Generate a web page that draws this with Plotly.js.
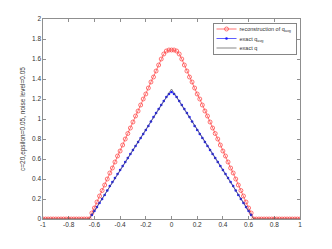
<!DOCTYPE html>
<html><head><meta charset="utf-8">
<script src="https://cdn.plot.ly/plotly-3.0.1.min.js"></script>
<style>html,body{margin:0;padding:0;background:#fff}#c{width:332px;height:249px}</style>
</head><body><div id="c"></div>
<script>
var xRecon = [-1,-0.98,-0.96,-0.94,-0.92,-0.9,-0.88,-0.86,-0.84,-0.82,-0.8,-0.78,-0.76,-0.74,-0.72,-0.7,-0.68,-0.66,-0.64,-0.62,-0.6,-0.58,-0.56,-0.54,-0.52,-0.5,-0.48,-0.46,-0.44,-0.42,-0.4,-0.38,-0.36,-0.34,-0.32,-0.3,-0.28,-0.26,-0.24,-0.22,-0.2,-0.18,-0.16,-0.14,-0.12,-0.1,-0.08,-0.06,-0.04,-0.02,0,0.02,0.04,0.06,0.08,0.1,0.12,0.14,0.16,0.18,0.2,0.22,0.24,0.26,0.28,0.3,0.32,0.34,0.36,0.38,0.4,0.42,0.44,0.46,0.48,0.5,0.52,0.54,0.56,0.58,0.6,0.62,0.64,0.66,0.68,0.7,0.72,0.74,0.76,0.78,0.8,0.82,0.84,0.86,0.88,0.9,0.92,0.94,0.96,0.98,1];
var yRecon = [0,0,0,0,0,0,0,0,0,0,0,0,0,0,0,0,0,0,0,0.06,0.11,0.17,0.23,0.285,0.34,0.40,0.46,0.51,0.57,0.63,0.68,0.74,0.80,0.855,0.91,0.97,1.03,1.08,1.14,1.20,1.25,1.31,1.37,1.42,1.48,1.54,1.60,1.65,1.68,1.69,1.69,1.69,1.68,1.65,1.60,1.54,1.48,1.42,1.37,1.31,1.25,1.20,1.14,1.08,1.03,0.97,0.91,0.855,0.80,0.74,0.68,0.63,0.57,0.51,0.46,0.40,0.34,0.285,0.23,0.17,0.11,0.06,0,0,0,0,0,0,0,0,0,0,0,0,0,0,0,0,0,0,0];
var xAvg = [-0.62,-0.6,-0.58,-0.56,-0.54,-0.52,-0.5,-0.48,-0.46,-0.44,-0.42,-0.4,-0.38,-0.36,-0.34,-0.32,-0.3,-0.28,-0.26,-0.24,-0.22,-0.2,-0.18,-0.16,-0.14,-0.12,-0.1,-0.08,-0.06,-0.04,-0.02,0,0.02,0.04,0.06,0.08,0.1,0.12,0.14,0.16,0.18,0.2,0.22,0.24,0.26,0.28,0.3,0.32,0.34,0.36,0.38,0.4,0.42,0.44,0.46,0.48,0.5,0.52,0.54,0.56,0.58,0.6,0.62];
var yAvg = [0.04,0.08,0.12,0.16,0.20,0.24,0.285,0.33,0.37,0.41,0.45,0.49,0.53,0.57,0.61,0.65,0.69,0.73,0.77,0.81,0.85,0.89,0.93,0.975,1.02,1.06,1.10,1.14,1.18,1.22,1.25,1.27,1.25,1.22,1.18,1.14,1.10,1.06,1.02,0.975,0.93,0.89,0.85,0.81,0.77,0.73,0.69,0.65,0.61,0.57,0.53,0.49,0.45,0.41,0.37,0.33,0.285,0.24,0.20,0.16,0.12,0.08,0.04];
var xExact = [-1,-0.64,0,0.64,1];
var yExact = [0,0,1.3,0,0];
var xTicks = [-1,-0.8,-0.6,-0.4,-0.2,0,0.2,0.4,0.6,0.8,1];
var xTickText = ['-1','-0.8','-0.6','-0.4','-0.2','0','0.2','0.4','0.6','0.8','1'];
var yTicks = [0,0.2,0.4,0.6,0.8,1,1.2,1.4,1.6,1.8,2];
var yTickText = ['0','0.2','0.4','0.6','0.8','1','1.2','1.4','1.6','1.8','2'];
var names = ['reconstruction of q<sub>avg</sub>','exact q<sub>avg</sub>','exact q'];

var traces = [
  {x:xRecon, y:yRecon, name:names[0], mode:'lines+markers', type:'scatter',
   line:{color:'#ff3b3b', width:0.7},
   marker:{symbol:'circle-open', size:4, color:'#ff3b3b', line:{width:0.7}}},
  {x:xAvg, y:yAvg, name:names[1], mode:'lines+markers', type:'scatter',
   line:{color:'#1a1aff', width:0.7},
   marker:{symbol:'circle', size:2.6, color:'#1a1aff'}},
  {x:xExact, y:yExact, name:names[2], mode:'lines', type:'scatter',
   line:{color:'#555555', width:0.7}}
];
var axCommon = {showgrid:false, zeroline:false, showline:true, mirror:'ticks', linecolor:'#444', linewidth:0.6,
  ticks:'inside', ticklen:3, tickwidth:0.6, tickcolor:'#444',
  tickfont:{family:'Liberation Sans, Arial, sans-serif', size:6.5, color:'#333'}};
var layout = {
  width:332, height:249, margin:{l:43, r:32, t:19, b:30},
  paper_bgcolor:'#fff', plot_bgcolor:'#fff', showlegend:true,
  xaxis:Object.assign({}, axCommon, {range:[-1,1], tickvals:xTicks, ticktext:xTickText}),
  yaxis:Object.assign({}, axCommon, {range:[0,2], tickvals:yTicks, ticktext:yTickText,
    title:{text:'c=20,epsilon=0.05, noise level=0.05', standoff:5, font:{family:'Liberation Sans, Arial, sans-serif', size:6.5, color:'#333'}}}),
  legend:{x:0.988, y:0.98, xanchor:'right', yanchor:'top', bgcolor:'#fff', bordercolor:'#333', borderwidth:0.6,
    font:{family:'Liberation Sans, Arial, sans-serif', size:5.5, color:'#333'}, tracegroupgap:0, itemwidth:30}
};
Plotly.newPlot('c', traces, layout, {displayModeBar:false, staticPlot:true}).then(function(gd){
  // compact the legend to resemble the MATLAB legend box
  var leg = gd.querySelector('.legend');
  if (!leg) return;
  var items = leg.querySelectorAll('.traces');
  var step = 9.5, top = 6, shrink = 14;
  items.forEach(function(it, i){
    var m = /translate\(([-\d.]+)[ ,]+([-\d.]+)\)/.exec(it.getAttribute('transform') || '');
    var tx = m ? parseFloat(m[1]) : 0;
    it.setAttribute('transform', 'translate(' + tx + ',' + (top + i*step) + ')');
    it.querySelectorAll('.legendlines path').forEach(function(p){ p.setAttribute('d', 'M3,0h20'); });
    it.querySelectorAll('.legendpoints path').forEach(function(p){ p.setAttribute('transform', 'translate(13,0)'); });
    var t = it.querySelector('.legendtext');
    if (t) { var x0 = parseFloat(t.getAttribute('x') || 40); t.setAttribute('x', x0 - shrink);
      t.querySelectorAll('tspan[x]').forEach(function(s){ s.setAttribute('x', parseFloat(s.getAttribute('x')) - shrink); }); }
    var r = it.querySelector('rect.legendtoggle'); if (r) r.setAttribute('height', step);
  });
  var bg = leg.querySelector('rect.bg');
  var h = top + (items.length-1)*step + 6;
  if (bg) { var w = parseFloat(bg.getAttribute('width')); bg.setAttribute('width', w - shrink); bg.setAttribute('height', h); }
  var m2 = /translate\(([-\d.]+)[ ,]+([-\d.]+)\)/.exec(leg.getAttribute('transform') || '');
  if (m2) leg.setAttribute('transform', 'translate(' + (parseFloat(m2[1]) + shrink) + ',' + m2[2] + ')');
  var sb = leg.querySelector('.scrollbox'); 
  var cp = gd.querySelector('clipPath[id^="legend"] rect');
  if (cp) { cp.setAttribute('height', h); }
});
</script></body></html>
